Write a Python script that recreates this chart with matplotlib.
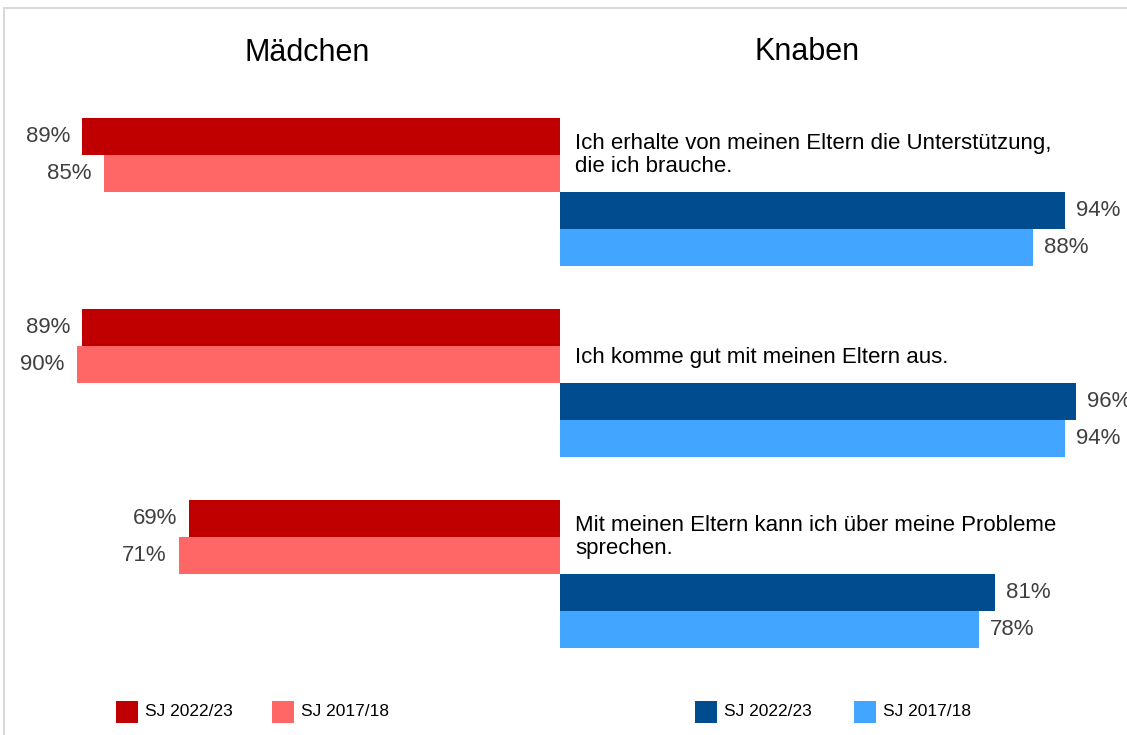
import matplotlib.pyplot as plt
from matplotlib.patches import Rectangle

# data
statements = [
    "Ich erhalte von meinen Eltern die Unterstützung,\ndie ich brauche.",
    "Ich komme gut mit meinen Eltern aus.",
    "Mit meinen Eltern kann ich über meine Probleme\nsprechen.",
]
girls_2223 = [89, 89, 69]
girls_1718 = [85, 90, 71]
boys_2223 = [94, 96, 81]
boys_1718 = [88, 94, 78]
legend_labels = ["SJ 2022/23", "SJ 2017/18"]

c_girls = ["#C00000", "#FF6666"]
c_boys = ["#004C8F", "#42A5FF"]
pct_color = "#404040"

plt.rcParams['font.family'] = ['Liberation Sans', 'DejaVu Sans']

W, H = 1127, 735
fig = plt.figure(figsize=(W / 100, H / 100), dpi=100)
ax = fig.add_axes([0, 0, 1, 1])
px = 5.37  # pixels per percent
ax.set_xlim(-560 / px, (W - 560) / px)
ax.set_ylim(H, 0)
ax.axis('off')

# thin light frame
fig.add_artist(Rectangle((4 / W, -0.1), 1.2, (H - 8) / H + 0.1,
                         transform=fig.transFigure, fill=False,
                         edgecolor="#d9d9d9", lw=1.5))

bh = 37
for i, txt in enumerate(statements):
    top = 118 + i * 191
    series = [(-girls_2223[i], c_girls[0]), (-girls_1718[i], c_girls[1]),
              (boys_2223[i], c_boys[0]), (boys_1718[i], c_boys[1])]
    for k, (v, col) in enumerate(series):
        y = top + k * bh
        ax.barh(y, v, height=bh, align='edge', color=col, linewidth=0)
        yc = y + bh / 2
        if v < 0:
            ax.text(v - 12 / px, yc, f"{-v}%", ha='right', va='center',
                    fontsize=16, color=pct_color)
        else:
            ax.text(v + 11 / px, yc, f"{v}%", ha='left', va='center',
                    fontsize=16, color=pct_color)
    ax.text(15 / px, top + 54, txt, ha='left', va='baseline', fontsize=16,
            color='black', linespacing=1.1)

ax.text(-(560 - 307) / px, 53, "Mädchen", ha='center', va='center', fontsize=22)
ax.text((807 - 560) / px, 52, "Knaben", ha='center', va='center', fontsize=22)

# legends
def legend_item(x0, color, label):
    fig.add_artist(Rectangle((x0 / W, 1 - 723 / H), 22 / W, 22 / H,
                             transform=fig.transFigure, color=color, lw=0))
    fig.text((x0 + 29) / W, 1 - 712 / H, label, ha='left', va='center',
             fontsize=12.5)

legend_item(116, c_girls[0], legend_labels[0])
legend_item(272, c_girls[1], legend_labels[1])
legend_item(695, c_boys[0], legend_labels[0])
legend_item(854, c_boys[1], legend_labels[1])

fig.savefig("out.png", dpi=100)
